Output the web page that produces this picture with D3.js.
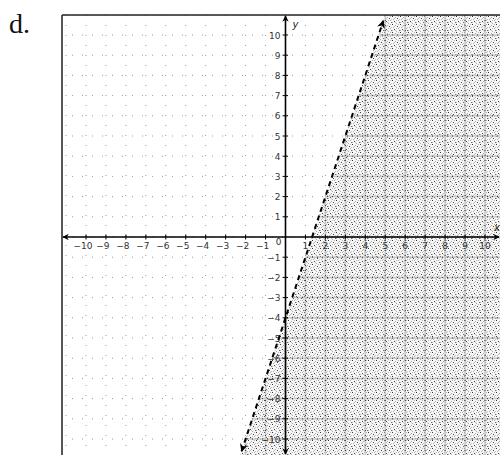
<!DOCTYPE html>
<html><head><meta charset="utf-8">
<script src="https://cdn.jsdelivr.net/npm/d3@7"></script>
<style>body{margin:0;background:#fff}svg{display:block}</style>
</head><body>
<script>
// ---- data ----
const xTicks = [-10,-9,-8,-7,-6,-5,-4,-3,-2,-1,1,2,3,4,5,6,7,8,9,10];
const yTicks = [-10,-9,-8,-7,-6,-5,-4,-3,-2,-1,1,2,3,4,5,6,7,8,9,10];
const gridValues = [-11,-10,-9,-8,-7,-6,-5,-4,-3,-2,-1,0,1,2,3,4,5,6,7,8,9,10,11];
// boundary line y = 3x - 4 (dashed, strict inequality), endpoints with arrows
const boundaryX = [-2.2, 4.9];
const boundaryY = [-10.6, 10.7];
const panelLabel = "d.";

const W = 500, H = 455;
const box = {l: 62, t: 15, r: 500, b: 455};
const x = d3.scaleLinear().domain([-10, 10]).range([86, 485]);
const y = d3.scaleLinear().domain([10, -10]).range([35, 439]);

const svg = d3.select("body").append("svg").attr("width", W).attr("height", H);
svg.append("rect").attr("width", W).attr("height", H).attr("fill", "#fff");
const defs = svg.append("defs");

// stipple pattern
const pat = defs.append("pattern").attr("id", "stip").attr("patternUnits", "userSpaceOnUse")
  .attr("width", 8).attr("height", 8);
pat.append("rect").attr("width", 8).attr("height", 8).attr("fill", "#f6f6f6");
[[0,0,"#333"],[5,2,"#444"],[2,5,"#444"],[7,6,"#666"],
 [3,1,"#aaa"],[6,4,"#aaa"],[1,3,"#b0b0b0"],[4,7,"#aaa"],[2,2,"#bbb"],[6,0,"#b5b5b5"],[0,6,"#b5b5b5"],[4,4,"#bbb"],[7,3,"#c4c4c4"],[3,6,"#c4c4c4"]]
  .forEach(([px,py,c]) => pat.append("rect").attr("x", px).attr("y", py).attr("width", 1).attr("height", 1).attr("fill", c));

defs.append("clipPath").attr("id", "boxclip").append("rect")
  .attr("x", box.l).attr("y", box.t).attr("width", box.r - box.l).attr("height", box.b - box.t);

// shaded region: right of boundary line, extended to panel edges
const slope = (boundaryY[1] - boundaryY[0]) / (boundaryX[1] - boundaryX[0]);
const xAt = yy => boundaryX[0] + (yy - boundaryY[0]) / slope;
const yTopV = y.invert(box.t), yBotV = y.invert(box.b), xRightV = x.invert(box.r);
const shade = [[xAt(yTopV), yTopV], [xRightV, yTopV], [xRightV, yBotV], [xAt(yBotV), yBotV]];
defs.append("clipPath").attr("id", "shadeclip").append("polygon")
  .attr("points", shade.map(p => [x(p[0]), y(p[1])].join(",")).join(" "));

const g = svg.append("g").attr("clip-path", "url(#boxclip)");

// faint dotted grid (unshaded area)
g.selectAll("line.gx").data(gridValues).join("line")
  .attr("x1", d => x(d)).attr("x2", d => x(d)).attr("y1", box.t).attr("y2", box.b)
  .attr("stroke", "#999").attr("stroke-width", 1).attr("stroke-dasharray", "1,9");
g.selectAll("line.gy").data(gridValues).join("line")
  .attr("y1", d => y(d)).attr("y2", d => y(d)).attr("x1", box.l).attr("x2", box.r)
  .attr("stroke", "#999").attr("stroke-width", 1).attr("stroke-dasharray", "1,9");

// shaded area
g.append("polygon").attr("points", shade.map(p => [x(p[0]), y(p[1])].join(",")).join(" "))
  .attr("fill", "url(#stip)");
const sg = g.append("g").attr("clip-path", "url(#shadeclip)");
sg.selectAll("line.sx").data(gridValues).join("line")
  .attr("x1", d => x(d)).attr("x2", d => x(d)).attr("y1", box.t).attr("y2", box.b)
  .attr("stroke", "#c8c8c8").attr("stroke-width", 1.5);
sg.selectAll("line.sy").data(gridValues).join("line")
  .attr("y1", d => y(d)).attr("y2", d => y(d)).attr("x1", box.l).attr("x2", box.r)
  .attr("stroke", "#c8c8c8").attr("stroke-width", 1.5);
sg.selectAll("line.sx2").data(gridValues).join("line")
  .attr("x1", d => x(d)).attr("x2", d => x(d)).attr("y1", box.t).attr("y2", box.b)
  .attr("stroke", "#333").attr("stroke-width", 1).attr("stroke-dasharray", "1,4");
sg.selectAll("line.sy2").data(gridValues).join("line")
  .attr("y1", d => y(d)).attr("y2", d => y(d)).attr("x1", box.l).attr("x2", box.r)
  .attr("stroke", "#333").attr("stroke-width", 1).attr("stroke-dasharray", "1,4");

// frame
svg.append("line").attr("x1", box.l).attr("x2", box.l).attr("y1", box.t).attr("y2", box.b)
  .attr("stroke", "#555").attr("stroke-width", 2);
svg.append("line").attr("x1", box.l).attr("x2", box.r).attr("y1", box.t).attr("y2", box.t)
  .attr("stroke", "#222").attr("stroke-width", 1.5);

// arrow marker
defs.append("marker").attr("id", "arr").attr("viewBox", "0 0 10 10").attr("refX", 9).attr("refY", 5)
  .attr("markerWidth", 4).attr("markerHeight", 4).attr("orient", "auto-start-reverse")
  .append("path").attr("d", "M0,0 L10,5 L0,10 L3,5 Z").attr("fill", "#000");

// axes
svg.append("line").attr("x1", box.l + 1).attr("x2", box.r - 1).attr("y1", y(0)).attr("y2", y(0))
  .attr("stroke", "#000").attr("stroke-width", 1.6)
  .attr("marker-start", "url(#arr)").attr("marker-end", "url(#arr)");
svg.append("line").attr("x1", x(0)).attr("x2", x(0)).attr("y1", box.t + 1).attr("y2", box.b - 1)
  .attr("stroke", "#000").attr("stroke-width", 1.6)
  .attr("marker-start", "url(#arr)").attr("marker-end", "url(#arr)");

// ticks
svg.selectAll("line.tx").data(xTicks).join("line")
  .attr("x1", d => x(d)).attr("x2", d => x(d)).attr("y1", y(0) - 2.5).attr("y2", y(0) + 2.5)
  .attr("stroke", "#000").attr("stroke-width", 1);
svg.selectAll("line.ty").data(yTicks).join("line")
  .attr("y1", d => y(d)).attr("y2", d => y(d)).attr("x1", x(0) - 2.5).attr("x2", x(0) + 2.5)
  .attr("stroke", "#000").attr("stroke-width", 1);

// tick labels
const font = "'DejaVu Sans', sans-serif";
svg.selectAll("text.lx").data(xTicks).join("text")
  .attr("x", d => x(d) - (d < 0 ? 3 : 0)).attr("y", y(0) + 12)
  .attr("text-anchor", "middle").attr("font-family", font).attr("font-size", 9).attr("fill", "#333")
  .text(d => d < 0 ? "\u2212" + Math.abs(d) : d);
svg.selectAll("text.ly").data(yTicks).join("text")
  .attr("x", x(0) - 5).attr("y", d => y(d) + 3.5)
  .attr("text-anchor", "end").attr("font-family", font).attr("font-size", 9).attr("fill", "#333")
  .text(d => d < 0 ? "\u2212" + Math.abs(d) : d);
svg.append("text").attr("x", x(0) - 4).attr("y", y(0) + 8).attr("text-anchor", "end")
  .attr("font-family", font).attr("font-size", 9).attr("fill", "#333").text("0");
svg.append("text").attr("x", x(0) + 7).attr("y", box.t + 13).attr("font-family", font)
  .attr("font-style", "italic").attr("font-size", 10).attr("fill", "#222").text("y");
svg.append("text").attr("x", box.r - 6).attr("y", y(0) - 6).attr("font-family", font)
  .attr("font-style", "italic").attr("font-size", 10).attr("fill", "#222").text("x");

// boundary line (dashed)
svg.append("line")
  .attr("x1", x(boundaryX[0])).attr("y1", y(boundaryY[0]))
  .attr("x2", x(boundaryX[1])).attr("y2", y(boundaryY[1]))
  .attr("stroke", "#000").attr("stroke-width", 2).attr("stroke-dasharray", "5,4")
  .attr("marker-start", "url(#arr)").attr("marker-end", "url(#arr)");

// panel label
svg.append("text").attr("x", 9).attr("y", 33).attr("font-family", "'Liberation Serif', serif")
  .attr("font-size", 28).attr("fill", "#111").text(panelLabel);
</script>
</body></html>
